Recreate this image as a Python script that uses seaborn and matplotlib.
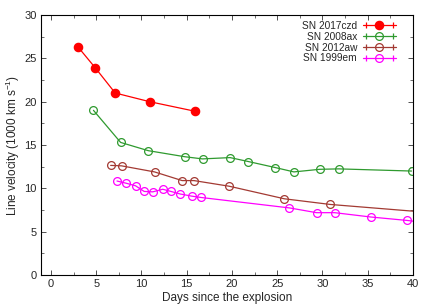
import numpy as np
import pandas as pd
import matplotlib
matplotlib.use("Agg")
import matplotlib.pyplot as plt
from matplotlib.lines import Line2D
from matplotlib.legend_handler import HandlerLine2D
import seaborn as sns

# ---- data ----
czd_day = [3.0, 4.9, 7.1, 10.9, 15.9]
czd_vel = [26.3, 23.9, 21.0, 20.0, 18.9]

ax08_day = [4.7, 7.7, 10.75, 14.8, 16.75, 19.8, 21.8, 24.8, 26.85, 29.7, 31.8, 39.85]
ax08_vel = [19.0, 15.3, 14.35, 13.65, 13.4, 13.55, 13.1, 12.4, 11.9, 12.2, 12.25, 12.0]

aw12_day = [6.6, 7.8, 11.45, 14.5, 15.8, 19.7, 25.8, 30.85, 45.0]
aw12_vel = [12.65, 12.6, 11.9, 10.9, 10.9, 10.25, 8.8, 8.15, 6.95]

em99_day = [7.3, 8.3, 9.35, 10.3, 11.25, 12.35, 13.25, 14.3, 15.6, 16.6, 26.35, 29.35, 31.35, 35.35, 39.4, 45.0]
em99_vel = [10.85, 10.6, 10.3, 9.65, 9.6, 9.9, 9.65, 9.35, 9.1, 8.95, 7.75, 7.2, 7.2, 6.7, 6.3, 5.6]

names = ["SN 2017czd", "SN 2008ax", "SN 2012aw", "SN 1999em"]
colors = ["#ff0000", "#2f9a2f", "#a33a33", "#ff00ff"]

sns.set_theme(style="ticks")
plt.rcParams["font.family"] = ["Liberation Sans", "DejaVu Sans"]
plt.rcParams["mathtext.default"] = "regular"

fig = plt.figure(figsize=(4.36, 3.05), dpi=100)
ax = fig.add_axes([0.094, 0.098, 0.853, 0.853])

series = [(czd_day, czd_vel), (ax08_day, ax08_vel), (aw12_day, aw12_vel), (em99_day, em99_vel)]
handles = []
hmap = {}
for i, ((d, v), name, c) in enumerate(zip(series, names, colors)):
    df = pd.DataFrame({"day": d, "vel": v})
    filled = (i == 0)
    sns.lineplot(data=df, x="day", y="vel", ax=ax, color=c, lw=0.9,
                 marker="o", markersize=6.0 if filled else 5.6,
                 markerfacecolor=c if filled else "none",
                 markeredgecolor=c, markeredgewidth=0.9,
                 legend=False, sort=False, estimator=None)
    h1 = Line2D([], [], color=c, lw=0.9, marker="o",
                markersize=6.0 if filled else 5.6,
                markerfacecolor=c if filled else "none",
                markeredgecolor=c, markeredgewidth=0.9)
    h2 = Line2D([], [], color=c, lw=0.9, marker="|", markersize=4,
                markeredgewidth=0.9, linestyle="none")
    hmap[h1] = HandlerLine2D(numpoints=1)
    hmap[h2] = HandlerLine2D(numpoints=2)
    handles.append((h1, h2))

ax.set_xlim(-1.1, 40)
ax.set_ylim(0, 30)
ax.set_xticks(np.arange(0, 41, 5))
ax.set_yticks(np.arange(0, 31, 5))
ax.set_xticks(np.arange(0, 40.1, 2.5), minor=True)
ax.set_yticks(np.arange(0, 30.1, 2.5), minor=True)
ax.tick_params(which="both", direction="in", top=True, right=True,
               labelsize=8, color="#333333")
ax.tick_params(which="major", length=3.5, width=0.6, pad=3)
ax.tick_params(which="minor", length=2, width=0.5)
for s in ax.spines.values():
    s.set_color("black")
    s.set_linewidth(0.8)

ax.set_xlabel("Days since the explosion", fontsize=8.5, labelpad=2)
ax.set_ylabel("Line velocity (1000 km s$^{-1}$)", fontsize=8.5, labelpad=2)

leg = ax.legend(handles, names, handler_map=hmap, loc="upper right",
                frameon=False, fontsize=7.3, markerfirst=False,
                handlelength=3.2, handletextpad=0.6, labelspacing=0.08,
                borderaxespad=0.2, bbox_to_anchor=(0.97, 1.0))

fig.savefig("out.png", dpi=100)
